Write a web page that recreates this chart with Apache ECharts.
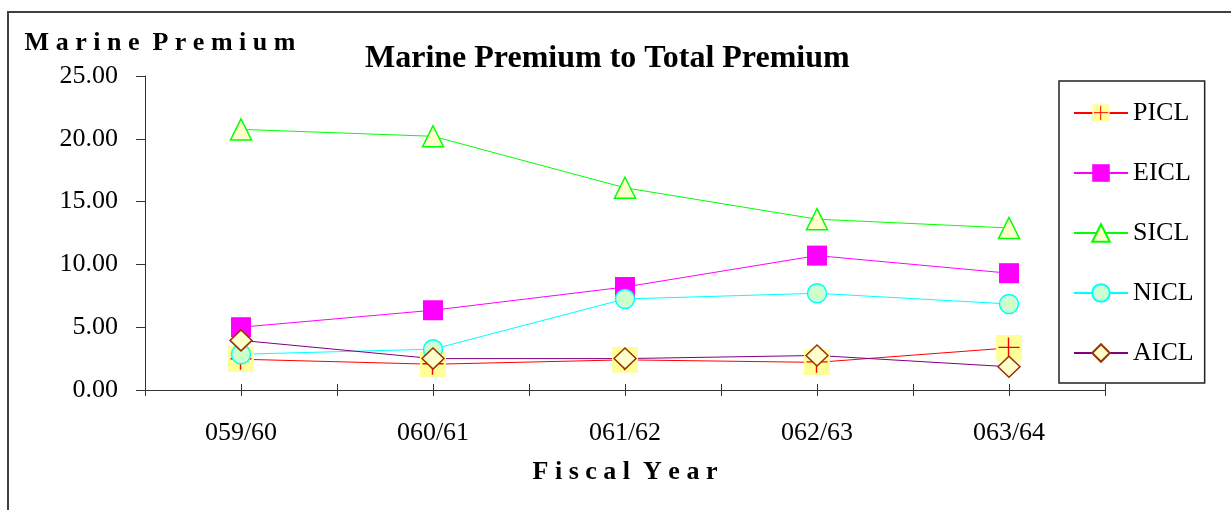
<!DOCTYPE html>
<html>
<head>
<meta charset="utf-8">
<script src="https://cdn.jsdelivr.net/npm/echarts@6/dist/echarts.min.js"></script>
<style>
  html, body { margin: 0; padding: 0; background: #fff; }
  #chart { width: 1231px; height: 510px; }
</style>
</head>
<body>
<div id="chart"></div>
<script>
var years = ["059/60", "060/61", "061/62", "062/63", "063/64"];
var picl = [2.45, 2.05, 2.4, 2.2, 3.35];
var eicl = [5.0, 6.35, 8.2, 10.7, 9.3];
var sicl = [20.75, 20.2, 16.1, 13.6, 12.9];
var nicl = [2.85, 3.25, 7.25, 7.7, 6.85];
var aicl = [3.95, 2.5, 2.5, 2.75, 1.85];

var serif = "'Liberation Serif', 'Times New Roman', serif";
var axisColor = "#333";

// yellow box with a red cross, like the PICL marker
var piclMark = "image://data:image/svg+xml;utf8," + encodeURIComponent(
  '<svg xmlns="http://www.w3.org/2000/svg" width="26" height="26" viewBox="0 0 26 26">' +
  '<rect x="0" y="0" width="26" height="26" fill="#FFFF99"/>' +
  '<path d="M2.5 12.5H23.5M12.5 2.5V23.5" stroke="#FF0000" stroke-width="1.4" fill="none"/>' +
  '</svg>');

var chart = echarts.init(document.getElementById("chart"));

function tickAxis(centered) {
  return {
    type: "category",
    data: years,
    gridIndex: 0,
    position: "bottom",
    offset: -6,
    boundaryGap: true,
    axisLine: { show: false },
    axisLabel: { show: false },
    axisTick: {
      show: true,
      interval: 0,
      alignWithLabel: centered,
      length: 12,
      lineStyle: { color: axisColor, width: 1 }
    },
    splitLine: { show: false }
  };
}

var option = {
  backgroundColor: "#fff",
  animation: false,
  title: {
    text: "Marine Premium to Total Premium",
    left: 365,
    top: 43,
    padding: 0,
    textStyle: { fontFamily: serif, fontSize: 32, fontWeight: "bold", color: "#000" }
  },
  graphic: [{
    type: "rect",
    shape: { x: 8, y: 12, width: 1400, height: 600 },
    style: { fill: null, stroke: "#404040", lineWidth: 2 },
    silent: true
  }],
  legend: {
    orient: "vertical",
    left: 1059,
    top: 81,
    padding: [19, 11, 17, 14],
    itemWidth: 54,
    itemHeight: 22,
    itemGap: 34,
    borderColor: "#222",
    borderWidth: 1.5,
    textStyle: { fontFamily: serif, fontSize: 26, color: "#000" },
    data: ["PICL", "EICL", "SICL", "NICL", "AICL"]
  },
  grid: { left: 145, top: 76, width: 960, height: 314 },
  xAxis: [
    {
      type: "category",
      data: years,
      boundaryGap: true,
      name: "F i s c a l  Y e a r",
      nameLocation: "middle",
      nameGap: 69,
      nameTextStyle: { fontFamily: serif, fontSize: 26, fontWeight: "bold", color: "#000" },
      axisLine: { show: true, lineStyle: { color: axisColor, width: 1 } },
      axisTick: { show: false },
      axisLabel: { interval: 0, margin: 30, fontFamily: serif, fontSize: 26, color: "#000" },
      splitLine: { show: false }
    },
    tickAxis(false),
    tickAxis(true)
  ],
  yAxis: {
    type: "value",
    min: 0,
    max: 25,
    interval: 5,
    name: "M a r i n e  P r e m i u m",
    nameLocation: "end",
    nameGap: 33,
    nameTextStyle: {
      fontFamily: serif, fontSize: 26, fontWeight: "bold", color: "#000",
      align: "center", verticalAlign: "middle", padding: [0, 0, 0, 30]
    },
    axisLine: { show: true, lineStyle: { color: axisColor, width: 1 } },
    axisTick: { show: true, length: 9, lineStyle: { color: axisColor, width: 1 } },
    axisLabel: {
      margin: 27, fontFamily: serif, fontSize: 26, color: "#000",
      formatter: function (v) { return v.toFixed(2); }
    },
    splitLine: { show: false }
  },
  series: [
    {
      name: "PICL", type: "line", data: picl,
      symbol: piclMark, symbolSize: 26,
      itemStyle: { color: "#FF0000" },
      lineStyle: { color: "#FF0000", width: 1 }
    },
    {
      name: "EICL", type: "line", data: eicl,
      symbol: "rect", symbolSize: 20,
      itemStyle: { color: "#FF00FF", borderColor: "#FF00FF", borderWidth: 0 },
      lineStyle: { color: "#FF00FF", width: 1 }
    },
    {
      name: "SICL", type: "line", data: sicl,
      symbol: "triangle", symbolSize: 21,
      itemStyle: { color: "#FFFFCC", borderColor: "#00FF00", borderWidth: 1.5 },
      lineStyle: { color: "#00FF00", width: 1 }
    },
    {
      name: "NICL", type: "line", data: nicl,
      symbol: "circle", symbolSize: 19,
      itemStyle: { color: "#CCFFCC", borderColor: "#00FFFF", borderWidth: 1.5 },
      lineStyle: { color: "#00FFFF", width: 1 }
    },
    {
      name: "AICL", type: "line", data: aicl,
      symbol: "diamond", symbolSize: [22, 21],
      itemStyle: { color: "#FFFFCC", borderColor: "#993300", borderWidth: 1.5 },
      lineStyle: { color: "#800080", width: 1 }
    }
  ]
};

chart.setOption(option);
</script>
</body>
</html>
